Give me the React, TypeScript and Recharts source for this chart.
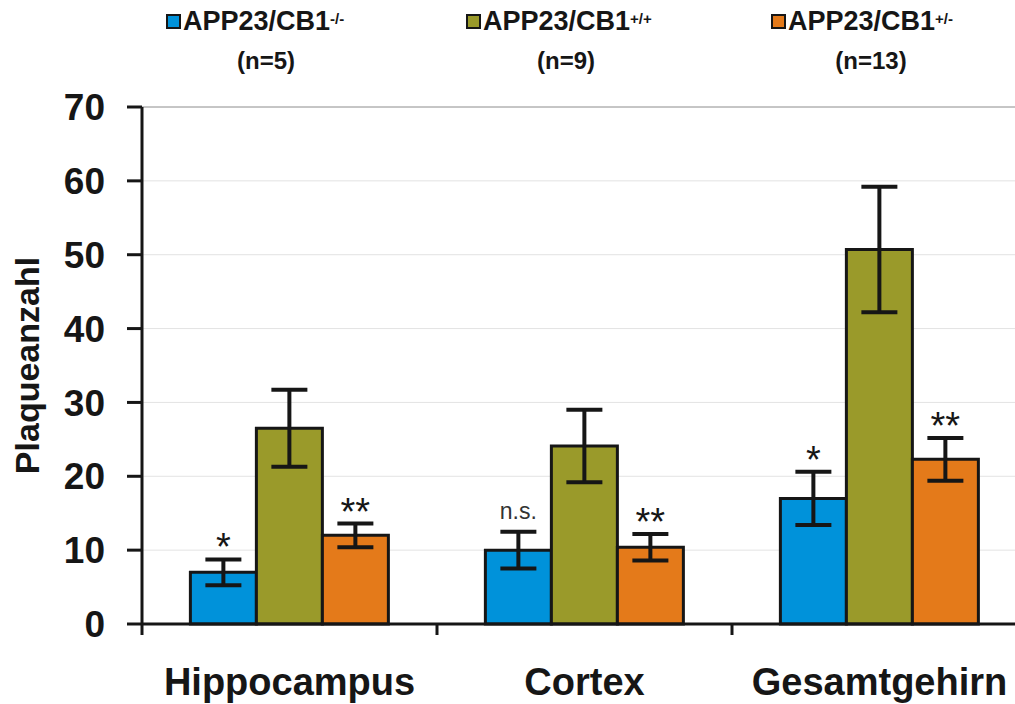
import { Bar, BarChart, CartesianGrid, ErrorBar, LabelList, Legend, ReferenceLine, XAxis, YAxis } from 'recharts';

const categories = ['Hippocampus', 'Cortex', 'Gesamtgehirn'];

const knockoutMeans = [7.0, 10.0, 17.0];
const knockoutErrors = [1.75, 2.5, 3.6];
const wildtypeMeans = [26.5, 24.1, 50.7];
const wildtypeErrors = [5.2, 4.9, 8.5];
const heteroMeans = [12.0, 10.4, 22.3];
const heteroErrors = [1.6, 1.8, 2.9];

const knockoutMarks = ['*', 'n.s.', '*'];
const heteroMarks = ['**', '**', '**'];

const seriesLabel = 'APP23/CB1';
const seriesGenotypes = ['-/-', '+/+', '+/-'];
const seriesCounts = ['(n=5)', '(n=9)', '(n=13)'];
const seriesColors = ['#0092da', '#9a9a2a', '#e47a1a'];

const yTicks = [0, 10, 20, 30, 40, 50, 60, 70];

const data = categories.map((name, i) => ({
  name,
  ko: knockoutMeans[i],
  koErr: knockoutErrors[i],
  koMark: knockoutMarks[i],
  wt: wildtypeMeans[i],
  wtErr: wildtypeErrors[i],
  het: heteroMeans[i],
  hetErr: heteroErrors[i],
  hetMark: heteroMarks[i],
}));

const font = '"Liberation Sans", Arial, Helvetica, sans-serif';
const ink = '#161616';
const legendLeft = [183, 483, 788];

function SignificanceLabel(means: number[], errors: number[]) {
  return (props: any) => {
    const box = props.viewBox ?? props;
    const index = props.index ?? 0;
    const x = Number(box.x);
    const y = Number(box.y);
    const width = Number(box.width);
    const height = Number(box.height);
    const top = y - (errors[index] * height) / means[index];
    const cx = x + width / 2;
    if (props.value === 'n.s.') {
      return (
        <text x={cx} y={top - 13} textAnchor="middle" fontSize={23} fontFamily={font} fill="#333">
          n.s.
        </text>
      );
    }
    return (
      <text x={cx} y={top + 1} textAnchor="middle" fontSize={38} fontFamily={font} fill={ink}>
        {props.value}
      </text>
    );
  };
}

function CategoryTick(props: any) {
  const { x, y, payload } = props;
  const half = payload?.offset ?? 147.5;
  return (
    <g>
      <line x1={x - half} x2={x - half} y1={y} y2={y + 11} stroke={ink} strokeWidth={3} />
      <text x={x} y={y + 71} textAnchor="middle" fontSize={38} fontWeight="bold" fontFamily={font} fill={ink}>
        {payload.value}
      </text>
    </g>
  );
}

function LegendContent() {
  return (
    <div style={{ position: 'relative', width: 1015, height: 90, fontFamily: font, color: ink }}>
      {seriesGenotypes.map((genotype, i) => (
        <div key={genotype} style={{ position: 'absolute', left: legendLeft[i], top: 6, width: 166 }}>
          <div
            style={{
              position: 'absolute',
              left: -17,
              top: 8,
              width: 11,
              height: 11,
              background: seriesColors[i],
              border: `2px solid ${ink}`,
            }}
          />
          <div style={{ fontSize: 27, fontWeight: 'bold', lineHeight: '30px', whiteSpace: 'nowrap' }}>
            {seriesLabel}
            <sup style={{ fontSize: 15, verticalAlign: 'top', position: 'relative', top: -2 }}>{genotype}</sup>
          </div>
          <div style={{ fontSize: 24, fontWeight: 'bold', lineHeight: '28px', marginTop: 11, textAlign: 'center' }}>
            {seriesCounts[i]}
          </div>
        </div>
      ))}
    </div>
  );
}

export default function App() {
  return (
    <div style={{ position: 'absolute', left: 0, top: 0, width: 1015, height: 704, overflow: 'hidden', background: '#fff' }}>
      <BarChart
        width={1040}
        height={704}
        data={data}
        margin={{ top: 107, right: 13, bottom: 0, left: 0 }}
        barCategoryGap="16.4%"
        barGap={0}
      >
        <CartesianGrid vertical={false} stroke="#e3e3e3" strokeWidth={1} />
        <ReferenceLine y={70} stroke="#9a9a9a" strokeWidth={1} />
        <XAxis
          dataKey="name"
          height={80}
          axisLine={{ stroke: ink, strokeWidth: 3 }}
          tickLine={false}
          tickSize={0}
          tickMargin={0}
          tick={<CategoryTick />}
          interval={0}
        />
        <YAxis
          width={142}
          domain={[0, 70]}
          ticks={yTicks}
          interval={0}
          axisLine={{ stroke: ink, strokeWidth: 3 }}
          tickLine={{ stroke: ink, strokeWidth: 3 }}
          tickSize={15}
          tickMargin={22}
          tick={{ fontSize: 37, fontWeight: 'bold', fontFamily: font, fill: ink }}
          label={{
            value: 'Plaqueanzahl',
            content: (p: any) => {
              const vb = p.viewBox ?? { y: 107, height: 517 };
              const cy = vb.y + vb.height / 2;
              return (
                <text
                  x={39}
                  y={cy}
                  transform={`rotate(-90, 39, ${cy})`}
                  textAnchor="middle"
                  fontSize={34}
                  fontWeight="bold"
                  fontFamily={font}
                  fill={ink}
                >
                  Plaqueanzahl
                </text>
              );
            },
          }}
        />
        <Legend
          layout="horizontal"
          verticalAlign="middle"
          align="center"
          wrapperStyle={{ top: 0, left: 0, width: 1015 }}
          content={<LegendContent />}
        />
        <Bar dataKey="ko" name="APP23/CB1 -/-" fill={seriesColors[0]} stroke={ink} strokeWidth={3} isAnimationActive={false}>
          <ErrorBar dataKey="koErr" width={18} stroke={ink} strokeWidth={4} />
          <LabelList dataKey="koMark" content={SignificanceLabel(knockoutMeans, knockoutErrors)} />
        </Bar>
        <Bar dataKey="wt" name="APP23/CB1 +/+" fill={seriesColors[1]} stroke={ink} strokeWidth={3} isAnimationActive={false}>
          <ErrorBar dataKey="wtErr" width={18} stroke={ink} strokeWidth={4} />
        </Bar>
        <Bar dataKey="het" name="APP23/CB1 +/-" fill={seriesColors[2]} stroke={ink} strokeWidth={3} isAnimationActive={false}>
          <ErrorBar dataKey="hetErr" width={18} stroke={ink} strokeWidth={4} />
          <LabelList dataKey="hetMark" content={SignificanceLabel(heteroMeans, heteroErrors)} />
        </Bar>
      </BarChart>
    </div>
  );
}
